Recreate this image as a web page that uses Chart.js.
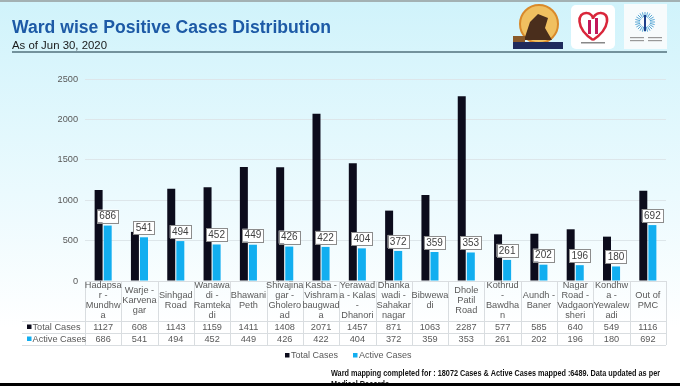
<!doctype html>
<html lang="en">
<head>
<meta charset="utf-8">
<title>Ward wise Positive Cases Distribution</title>
<script src="https://cdn.jsdelivr.net/npm/chart.js"></script>
<style>
  html, body { margin: 0; padding: 0; background: #fff; }
  #chart { display: block; }
</style>
</head>
<body>
<canvas id="chart" width="680" height="386"></canvas>
<script>
// ward names, wrapped the way the data table shows them
const wards = [
  ['Hadapsa', 'r -', 'Mundhw', 'a'],
  ['Warje -', 'Karvena', 'gar'],
  ['Sinhgad', 'Road'],
  ['Wanawa', 'di -', 'Ramteka', 'di'],
  ['Bhawani', 'Peth'],
  ['Shivajina', 'gar -', 'Gholero', 'ad'],
  ['Kasba -', 'Vishram', 'baugwad', 'a'],
  ['Yerawad', 'a - Kalas', '-', 'Dhanori'],
  ['Dhanka', 'wadi -', 'Sahakar', 'nagar'],
  ['Bibwewa', 'di'],
  ['Dhole', 'Patil', 'Road'],
  ['Kothrud', '-', 'Bawdha', 'n'],
  ['Aundh -', 'Baner'],
  ['Nagar', 'Road -', 'Vadgaon', 'sheri'],
  ['Kondhw', 'a -', 'Yewalew', 'adi'],
  ['Out of', 'PMC']
];
const totalCases  = [1127, 608, 1143, 1159, 1411, 1408, 2071, 1457, 871, 1063, 2287, 577, 585, 640, 549, 1116];
const activeCases = [686, 541, 494, 452, 449, 426, 422, 404, 372, 359, 353, 261, 202, 196, 180, 692];
const yTicks = [0, 500, 1000, 1500, 2000, 2500];

const title = 'Ward wise Positive Cases Distribution';
const subtitle = 'As of Jun 30, 2020';
const footer = ['Ward mapping completed for : 18072 Cases & Active Cases mapped :6489. Data updated as per', 'Medical Records'];

const FONT = '"Liberation Sans", Arial, sans-serif';
const GREY = '#595959';
const LINE = '#d9dde0';

// background, header and logos
const backdrop = {
  id: 'backdrop',
  beforeDraw(chart) {
    const ctx = chart.ctx;
    ctx.save();
    const g = ctx.createLinearGradient(0, 0, 0, 386);
    g.addColorStop(0, '#d0f3fb');
    g.addColorStop(0.5, '#ebfafe');
    g.addColorStop(0.85, '#ffffff');
    ctx.fillStyle = g;
    ctx.fillRect(0, 0, 680, 386);
    ctx.fillStyle = '#a3b1b3';
    ctx.fillRect(0, 0, 680, 2);

    ctx.fillStyle = '#1d5aa6';
    ctx.font = 'bold 17.6px ' + FONT;
    ctx.textBaseline = 'alphabetic';
    ctx.fillText(title, 12, 33, 321);
    ctx.fillStyle = '#1a1a1a';
    ctx.font = '11.6px ' + FONT;
    ctx.fillText(subtitle, 12, 49, 95);
    ctx.strokeStyle = '#52707c';
    ctx.lineWidth = 1.3;
    ctx.beginPath(); ctx.moveTo(12, 52); ctx.lineTo(667, 52); ctx.stroke();

    // logo 1
    ctx.fillStyle = '#f0c060';
    ctx.strokeStyle = '#d98a2b';
    ctx.lineWidth = 2;
    ctx.beginPath(); ctx.arc(539, 24, 19, 0, Math.PI * 2); ctx.fill(); ctx.stroke();
    ctx.fillStyle = '#4a2e1c';
    ctx.beginPath();
    ctx.moveTo(524, 40); ctx.lineTo(530, 22); ctx.lineTo(538, 14); ctx.lineTo(548, 18);
    ctx.lineTo(545, 28); ctx.lineTo(552, 40); ctx.closePath(); ctx.fill();
    ctx.fillStyle = '#1f2b5c';
    ctx.fillRect(513, 42, 50, 7);
    ctx.fillStyle = '#8a5a2a';
    ctx.fillRect(513, 36, 12, 6);

    // logo 2
    ctx.fillStyle = '#ffffff';
    ctx.beginPath(); ctx.roundRect(571, 5, 44, 44, 5); ctx.fill();
    ctx.strokeStyle = '#d9263a';
    ctx.lineWidth = 2.5;
    ctx.beginPath();
    ctx.moveTo(593, 40);
    ctx.bezierCurveTo(575, 28, 577, 12, 587, 13);
    ctx.bezierCurveTo(591, 13, 593, 17, 593, 19);
    ctx.bezierCurveTo(593, 17, 596, 13, 600, 13);
    ctx.bezierCurveTo(610, 12, 611, 28, 593, 40);
    ctx.stroke();
    ctx.fillStyle = '#c2185b';
    ctx.fillRect(588, 20, 3, 14); ctx.fillRect(595, 18, 3, 16);
    ctx.fillStyle = '#888';
    ctx.fillRect(581, 42, 24, 1.5);

    // logo 3
    ctx.fillStyle = '#f7fbfc';
    ctx.fillRect(624, 4, 43, 45);
    ctx.strokeStyle = '#5aa9d6';
    ctx.lineWidth = 1;
    for (let a = 0; a < 24; a++) {
      const t = a / 24 * Math.PI * 2;
      ctx.beginPath();
      ctx.moveTo(645 + Math.cos(t) * 5, 22 + Math.sin(t) * 5);
      ctx.lineTo(645 + Math.cos(t) * 10, 22 + Math.sin(t) * 10);
      ctx.stroke();
    }
    ctx.fillStyle = '#1f3f8a';
    ctx.fillRect(644, 15, 2, 16);
    ctx.fillStyle = '#999';
    ctx.fillRect(630, 37, 14, 1.2); ctx.fillRect(648, 37, 14, 1.2);
    ctx.fillRect(630, 40, 14, 1.2); ctx.fillRect(648, 40, 14, 1.2);
    ctx.restore();
  }
};

// data labels, data table, legend, footer
const extras = {
  id: 'extras',
  afterDraw(chart) {
    const ctx = chart.ctx;
    const x = chart.scales.x;
    const area = chart.chartArea;
    ctx.save();

    // label boxes on active cases
    const meta = chart.getDatasetMeta(1);
    ctx.font = '10px ' + FONT;
    ctx.textAlign = 'center';
    ctx.textBaseline = 'middle';
    meta.data.forEach((bar, i) => {
      const txt = String(activeCases[i]);
      const w = ctx.measureText(txt).width + 4.5;
      const h = 13;
      const bx = bar.x - w / 2, by = bar.y - 3 - h;
      ctx.fillStyle = '#ffffff';
      ctx.fillRect(bx, by, w, h);
      ctx.strokeStyle = '#8c8c8c';
      ctx.lineWidth = 1;
      ctx.strokeRect(Math.round(bx) + 0.5, Math.round(by) + 0.5, Math.round(w), h);
      ctx.fillStyle = '#404040';
      ctx.fillText(txt, bar.x, by + h / 2 + 0.5);
    });

    // table grid
    const top = area.bottom, rowA = 321, rowB = 333, rowC = 345;
    const half = (x.getPixelForValue(1) - x.getPixelForValue(0)) / 2;
    ctx.strokeStyle = LINE;
    ctx.lineWidth = 1;
    ctx.beginPath();
    [rowA, rowB, rowC].forEach(y => { ctx.moveTo(22, y + 0.5); ctx.lineTo(area.right, y + 0.5); });
    ctx.moveTo(area.left, top + 0.5); ctx.lineTo(area.right, top + 0.5);
    for (let i = 0; i <= wards.length; i++) {
      const vx = Math.round(x.getPixelForValue(i) - half) + 0.5;
      ctx.moveTo(vx, top); ctx.lineTo(vx, rowC);
    }
    ctx.stroke();

    ctx.fillStyle = GREY;
    ctx.font = '9.2px ' + FONT;
    wards.forEach((lines, i) => {
      const cx = x.getPixelForValue(i);
      lines.forEach((ln, k) => {
        ctx.fillText(ln, cx, 300.5 + (k - (lines.length - 1) / 2) * 10);
      });
      ctx.fillText(String(totalCases[i]), cx, 327.5);
      ctx.fillText(String(activeCases[i]), cx, 339.5);
    });

    // row headers
    const ds = chart.data.datasets;
    ctx.textAlign = 'left';
    [[327, 0], [339, 1]].forEach(([y, d]) => {
      ctx.fillStyle = ds[d].backgroundColor;
      ctx.fillRect(27, y - 2.5, 4.5, 4.5);
      ctx.fillStyle = GREY;
      ctx.fillText(ds[d].label, 32.5, y + 0.5);
    });

    // legend
    ctx.font = '9px ' + FONT;
    [[285, 0], [353, 1]].forEach(([lx, d]) => {
      ctx.fillStyle = ds[d].backgroundColor;
      ctx.fillRect(lx, 353, 4.5, 4.5);
      ctx.fillStyle = GREY;
      ctx.fillText(ds[d].label, lx + 6, 355.5);
    });

    // footer
    ctx.fillStyle = '#111';
    ctx.font = 'bold 9.5px ' + FONT;
    ctx.fillText(footer[0], 331, 373, 329);
    ctx.fillText(footer[1], 331, 384.5, 58);
    ctx.fillStyle = '#000';
    ctx.fillRect(0, 383, 680, 3);
    ctx.restore();
  }
};

new Chart(document.getElementById('chart'), {
  type: 'bar',
  data: {
    labels: wards,
    datasets: [
      { label: 'Total Cases', data: totalCases, backgroundColor: '#0c0c1c' },
      { label: 'Active Cases', data: activeCases, backgroundColor: '#12aef0' }
    ]
  },
  options: {
    responsive: false,
    animation: false,
    devicePixelRatio: 1,
    categoryPercentage: 0.5,
    barPercentage: 0.88,
    layout: { padding: { top: 79, right: 14, bottom: 105, left: 0 } },
    plugins: { legend: { display: false }, title: { display: false }, tooltip: { enabled: false } },
    scales: {
      x: { display: false },
      y: {
        min: 0,
        max: 2500,
        afterBuildTicks: s => { s.ticks = yTicks.map(v => ({ value: v })); },
        afterFit: s => { s.width = 85; },
        border: { display: false },
        grid: { color: '#dde6ea', drawTicks: false },
        ticks: { color: GREY, font: { family: FONT, size: 9.2 }, padding: 7, callback: v => String(v) }
      }
    }
  },
  plugins: [backdrop, extras]
});
</script>
</body>
</html>
